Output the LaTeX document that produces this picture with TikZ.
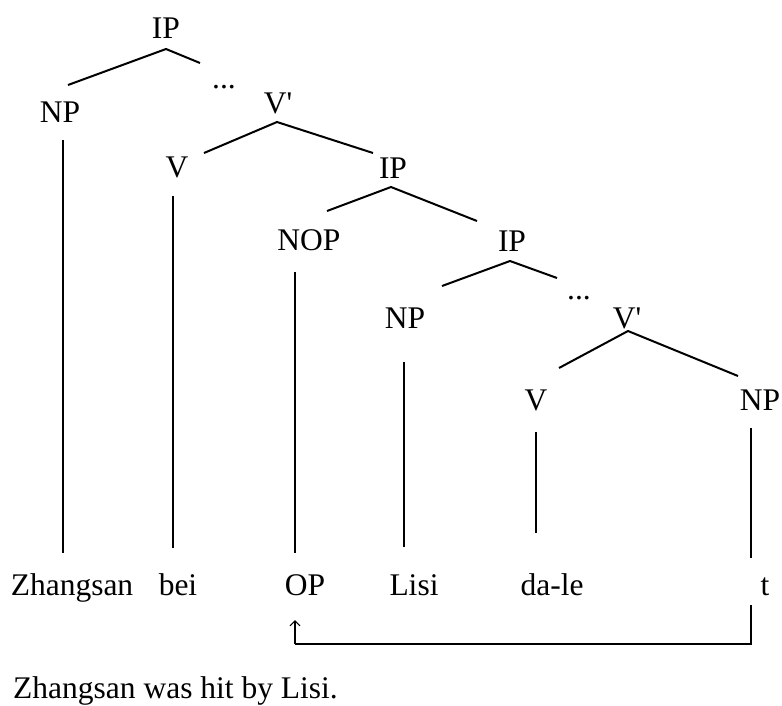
\documentclass[tikz,border=0pt]{standalone}
\usepackage{fontspec}
\setmainfont{Liberation Serif}
\usetikzlibrary{arrows.meta}
\begin{document}
\begin{tikzpicture}[x=1pt,y=-1pt,
  lbl/.style={anchor=base,inner sep=0pt,font=\fontsize{31.5}{36}\selectfont},
  br/.style={line width=2pt},
  mv/.style={line width=2pt},
  mvarrow/.style={line width=1.1pt,-{Straight Barb[length=5pt,width=10pt,line width=1.1pt]}}
  ]
\useasboundingbox (0,0) rectangle (782,705);

% labels
\node[lbl] (IP1) at (166,38) {IP};
\node[lbl] (NP1) at (60,122) {NP};
\node[lbl] (dots1) at (224,88) {...};
\node[lbl] (Vb1) at (278,113) {V\textquotesingle};
\node[lbl] (V1) at (177,177) {V};
\node[lbl] (IP2) at (393,178) {IP};
\node[lbl] (NOP) at (309,250) {NOP};
\node[lbl] (IP3) at (512,251) {IP};
\node[lbl] (NP2) at (405,328) {NP};
\node[lbl] (dots2) at (579,299) {...};
\node[lbl] (Vb2) at (627,328) {V\textquotesingle};
\node[lbl] (V2) at (536,410) {V};
\node[lbl] (NP3) at (760,410) {NP};

% words
\node[lbl] (w1) at (72,595) {Zhangsan};
\node[lbl] (w2) at (178,595) {bei};
\node[lbl] (w3) at (305,595) {OP};
\node[lbl] (w4) at (414,595) {Lisi};
\node[lbl] (w5) at (552,595) {da-le};
\node[lbl] (w6) at (765,595) {t};

\node[lbl,anchor=base west] (cap) at (13,698) {Zhangsan was hit by Lisi.};

% connector end points
\coordinate (IP1-b) at (166,49);
\coordinate (NP1-t) at (68,85);
\coordinate (dots1-t) at (200,63);
\coordinate (Vb1-b) at (277,122);
\coordinate (V1-t) at (204,153);
\coordinate (IP2-t) at (373,153);
\coordinate (IP2-b) at (391,187);
\coordinate (NOP-t) at (327,211);
\coordinate (IP3-t) at (477,221);
\coordinate (IP3-b) at (510,261);
\coordinate (NP2-t) at (442,286);
\coordinate (dots2-t) at (557,278);
\coordinate (Vb2-b) at (628,331);
\coordinate (V2-t) at (559,368);
\coordinate (NP3-t) at (738,376);

\coordinate (NP1-b) at (63,140);  \coordinate (w1-t) at (63,553);
\coordinate (V1-b) at (173,196);  \coordinate (w2-t) at (173,548);
\coordinate (NOP-b) at (295,272); \coordinate (w3-t) at (295,553);
\coordinate (NP2-b) at (404,362); \coordinate (w4-t) at (404,547);
\coordinate (V2-b) at (536,432);  \coordinate (w5-t) at (536,533);
\coordinate (NP3-b) at (751,428); \coordinate (w6-t) at (751,558);

\coordinate (w6-b) at (751,605);
\coordinate (mvR) at (751,644);
\coordinate (mvL) at (295,644);
\coordinate (w3-b) at (295,620);

% branches
\draw[br] (NP1-t) -- (IP1-b) -- (dots1-t);
\draw[br] (V1-t) -- (Vb1-b) -- (IP2-t);
\draw[br] (NOP-t) -- (IP2-b) -- (IP3-t);
\draw[br] (NP2-t) -- (IP3-b) -- (dots2-t);
\draw[br] (V2-t) -- (Vb2-b) -- (NP3-t);

\draw[br] (NP1-b) -- (w1-t);
\draw[br] (V1-b) -- (w2-t);
\draw[br] (NOP-b) -- (w3-t);
\draw[br] (NP2-b) -- (w4-t);
\draw[br] (V2-b) -- (w5-t);
\draw[br] (NP3-b) -- (w6-t);

% movement
\draw[mv] (w6-b) -- (mvR) -- (mvL);
\draw[mvarrow] (mvL) -- (w3-b);
\end{tikzpicture}
\end{document}
